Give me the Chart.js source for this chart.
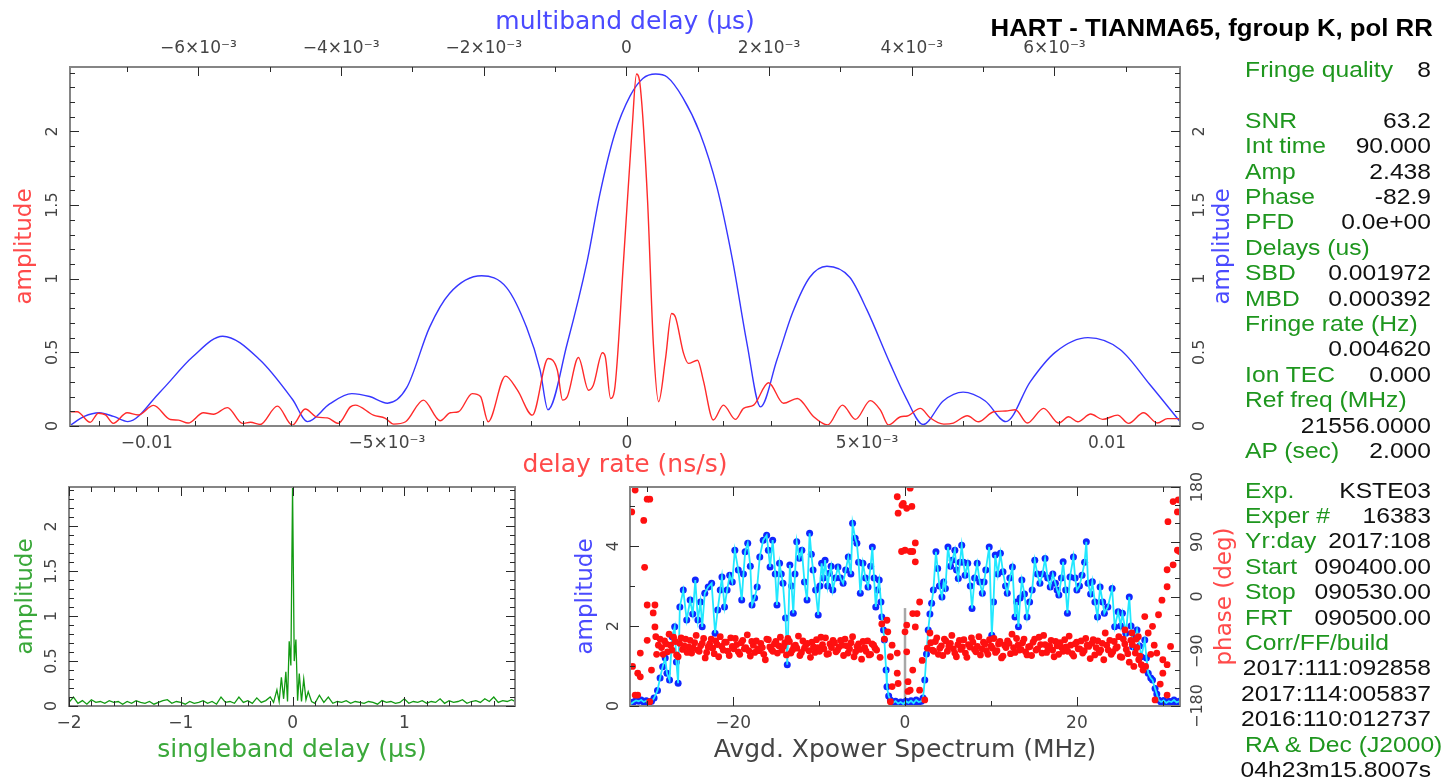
<!DOCTYPE html>
<html>
<head>
<meta charset="utf-8">
<script src="https://cdn.jsdelivr.net/npm/chart.js@4.4.1/dist/chart.umd.min.js"></script>
<style>
body { margin: 0; background: #fff; }
#page { position: relative; width: 1447px; height: 782px; overflow: hidden; font-family: 'Liberation Sans', Arial, sans-serif; }
canvas { position: absolute; }
#title { position: absolute; right: 14px; top: 14px; font-weight: bold; font-size: 23px; line-height: 28px; white-space: nowrap; transform: scaleX(1.12); transform-origin: right center; color: #000; }
#panel { position: absolute; left: 1261px; top: 0; width: 170px; height: 782px; transform: scaleX(1.12); transform-origin: right top; font-size: 22px; }
.row { position: absolute; left: 0; right: 0; height: 26px; line-height: 26px; white-space: nowrap; }
.row .k { color: #1e961e; padding-left: 4px; }
.row .v { position: absolute; right: 0; top: 0; color: #111; }
</style>
</head>
<body>
<div id="page">
  <canvas id="cTop" width="1240" height="480" style="left:0;top:0"></canvas>
  <canvas id="cSbd" width="560" height="312" style="left:0;top:470px"></canvas>
  <canvas id="cSpec" width="680" height="312" style="left:560px;top:470px"></canvas>
  <div id="title">HART - TIANMA65, fgroup K, pol RR</div>
  <div id="panel"></div>
</div>
<script>
const FONT = "'DejaVu Sans', sans-serif";
const MINUS = '\u2212';
Chart.defaults.font.family = FONT;

// delay rate (ns/s) vs amplitude - red curve
const rateX = [-0.01160,-0.01145,-0.01118,-0.01101,-0.01086,-0.01070,-0.01041,-0.01018,-0.00986,-0.00951,
  -0.00934,-0.00914,-0.00882,-0.00861,-0.00832,-0.00801,-0.00784,-0.00764,-0.00728,-0.00697,
  -0.00670,-0.00645,-0.00624,-0.00601,-0.00576,-0.00566,-0.00528,-0.00503,-0.00486,-0.00461,
  -0.00424,-0.00389,-0.00368,-0.00351,-0.00322,-0.00305,-0.00289,-0.00253,-0.00228,-0.00197,
  -0.00164,-0.00145,-0.00134,-0.00124,-0.00101,-0.00080,-0.00070,-0.00051,-0.00045,-0.00034,
  -0.00026,-0.00007,0.00011,0.00020,0.00028,0.00043,0.00055,0.00066,0.00080,0.00093,
  0.00101,0.00118,0.00128,0.00147,0.00159,0.00180,0.00201,0.00226,0.00243,0.00264,
  0.00295,0.00326,0.00355,0.00389,0.00418,0.00449,0.00476,0.00507,0.00528,0.00545,
  0.00570,0.00584,0.00611,0.00632,0.00660,0.00680,0.00709,0.00732,0.00764,0.00789,
  0.00809,0.00834,0.00868,0.00899,0.00920,0.00939,0.00966,0.00991,0.01022,0.01045,
  0.01076,0.01105,0.01126,0.01152];
const rateAmp = [0.097,0.097,0.025,0.087,0.075,0.018,0.090,0.075,0.140,0.044,
  0.040,0.020,0.090,0.080,0.125,0.018,0.025,0.010,0.135,0.005,
  0.115,0.060,0.055,0.018,0.130,0.142,0.074,0.052,0.013,0.029,
  0.176,0.036,0.090,0.097,0.220,0.200,0.029,0.339,0.243,0.074,
  0.458,0.380,0.176,0.200,0.465,0.243,0.277,0.497,0.470,0.187,
  0.240,1.125,2.030,2.390,2.300,1.530,0.560,0.165,0.447,0.764,
  0.740,0.493,0.425,0.447,0.312,0.041,0.142,0.045,0.120,0.142,
  0.294,0.154,0.187,0.063,0.007,0.142,0.045,0.172,0.108,0.007,
  0.063,0.068,0.120,0.054,0.013,0.020,0.070,0.029,0.097,0.102,
  0.110,0.020,0.120,0.020,0.063,0.029,0.081,0.045,0.074,0.018,
  0.090,0.020,0.050,0.050];

// multiband delay (us) vs amplitude - blue curve
const mbdX = [-0.00781,-0.00760,-0.00739,-0.00719,-0.00699,-0.00654,-0.00608,-0.00566,-0.00514,-0.00468,
  -0.00447,-0.00416,-0.00385,-0.00360,-0.00335,-0.00308,-0.00276,-0.00248,-0.00203,-0.00168,
  -0.00140,-0.00121,-0.00110,-0.00083,-0.00055,-0.00037,-0.00016,0.00005,0.00023,0.00041,
  0.00057,0.00079,0.00103,0.00127,0.00149,0.00169,0.00188,0.00211,0.00233,0.00257,
  0.00281,0.00313,0.00337,0.00370,0.00391,0.00416,0.00444,0.00472,0.00503,0.00532,
  0.00566,0.00601,0.00647,0.00692,0.00734,0.00776];
const mbdAmp = [0.00,0.065,0.09,0.065,0.03,0.23,0.47,0.61,0.45,0.18,
  0.03,0.15,0.22,0.20,0.155,0.26,0.67,0.90,1.02,0.94,
  0.67,0.38,0.11,0.56,1.12,1.58,1.99,2.24,2.36,2.39,
  2.37,2.23,1.99,1.62,1.12,0.56,0.13,0.45,0.77,1.01,
  1.085,1.01,0.79,0.42,0.20,0.01,0.17,0.23,0.17,0.03,
  0.30,0.50,0.60,0.52,0.28,0.03];

// singleband delay (us) vs amplitude - green curve
const sbdX = [-2.00,-1.96,-1.92,-1.88,-1.84,-1.80,-1.76,-1.72,-1.68,-1.64,
  -1.60,-1.56,-1.52,-1.48,-1.44,-1.40,-1.36,-1.32,-1.28,-1.24,
  -1.20,-1.16,-1.12,-1.08,-1.04,-1.00,-0.96,-0.92,-0.88,-0.84,
  -0.80,-0.76,-0.72,-0.68,-0.64,-0.60,-0.56,-0.52,-0.48,-0.44,
  -0.40,-0.36,-0.32,-0.28,-0.24,-0.20,-0.17,-0.14,-0.12,-0.10,
  -0.08,-0.06,-0.045,-0.03,-0.015,0,0.015,0.03,0.045,0.06,
  0.08,0.10,0.12,0.14,0.17,0.20,0.24,0.28,0.32,0.36,
  0.40,0.44,0.48,0.52,0.56,0.60,0.64,0.68,0.72,0.76,
  0.80,0.84,0.88,0.92,0.96,1.00,1.04,1.08,1.12,1.16,
  1.20,1.24,1.28,1.32,1.36,1.40,1.44,1.48,1.52,1.56,
  1.60,1.64,1.68,1.72,1.76,1.80,1.84,1.88,1.92,1.96,1.99];
const sbdAmp = [0.04,0.10,0.03,0.06,0.02,0.07,0.04,0.05,0.03,0.06,
  0.04,0.05,0.02,0.05,0.03,0.06,0.04,0.03,0.05,0.02,
  0.04,0.06,0.07,0.03,0.05,0.04,0.02,0.05,0.03,0.04,
  0.06,0.03,0.05,0.02,0.10,0.04,0.05,0.03,0.10,0.04,
  0.06,0.03,0.09,0.04,0.06,0.10,0.04,0.18,0.05,0.32,
  0.08,0.38,0.05,0.72,0.45,2.43,0.50,0.74,0.06,0.36,
  0.05,0.30,0.07,0.16,0.05,0.03,0.12,0.04,0.10,0.03,
  0.05,0.04,0.06,0.03,0.05,0.04,0.03,0.05,0.04,0.02,
  0.06,0.04,0.05,0.03,0.04,0.08,0.03,0.05,0.04,0.06,
  0.03,0.05,0.04,0.08,0.03,0.06,0.04,0.05,0.07,0.03,
  0.05,0.06,0.04,0.08,0.05,0.10,0.04,0.06,0.05,0.07,0.05];

// averaged cross-power spectrum: frequency (MHz) and amplitude
const specFreq = [-31.9,-31.6,-31.3,-31.0,-30.7,-30.4,-30.1,-29.8,-29.5,-29.2,
  -28.8,-28.5,-28.2,-27.9,-27.7,-27.4,-27.1,-26.8,-26.6,-26.4,
  -26.2,-25.8,-25.4,-25.0,-24.7,-24.4,-24.1,-23.8,-23.6,-23.3,
  -22.9,-22.5,-22.1,-21.8,-21.5,-21.3,-21.0,-20.7,-20.4,-20.1,
  -19.8,-19.4,-19.0,-18.8,-18.6,-18.3,-18.0,-17.8,-17.5,-17.2,
  -16.9,-16.5,-16.1,-15.9,-15.7,-15.4,-15.1,-14.9,-14.6,-14.4,
  -14.2,-13.9,-13.7,-13.4,-13.2,-13.0,-12.8,-12.6,-12.3,-12.0,
  -11.7,-11.4,-11.1,-10.9,-10.7,-10.4,-10.1,-9.9,-9.7,-9.5,
  -9.3,-9.0,-8.8,-8.6,-8.4,-8.1,-7.8,-7.5,-7.2,-6.9,
  -6.6,-6.3,-6.1,-5.8,-5.6,-5.4,-5.2,-4.9,-4.6,-4.3,
  -4.0,-3.8,-3.6,-3.4,-3.2,-3.0,-2.8,-2.7,-2.5,-2.4,
  -2.2,-2.1,-1.9,-1.7,-1.4,-1.1,-0.8,-0.5,-0.2,0.1,
  0.4,0.7,1.0,1.3,1.6,1.9,2.1,2.3,2.5,2.7,
  2.9,3.1,3.3,3.6,3.8,4.0,4.3,4.5,4.7,5.0,
  5.3,5.5,5.8,6.0,6.2,6.4,6.6,6.8,7.0,7.3,
  7.6,7.8,8.1,8.4,8.7,9.0,9.2,9.4,9.8,10.1,
  10.3,10.5,10.8,11.1,11.4,11.7,11.9,12.2,12.5,12.8,
  13.0,13.2,13.4,13.6,13.9,14.2,14.5,14.8,15.1,15.4,
  15.7,16.0,16.3,16.6,16.9,17.2,17.5,17.7,17.9,18.2,
  18.4,18.7,18.9,19.2,19.6,19.8,20.0,20.3,20.6,20.9,
  21.1,21.3,21.6,21.8,22.1,22.4,22.7,23.0,23.2,23.6,
  24.1,24.4,24.8,25.1,25.3,25.7,26.1,26.3,26.5,26.8,
  27.0,27.3,27.5,27.9,28.1,28.3,28.6,28.8,29.1,29.3,
  29.5,29.8,30.1,30.4,30.7,31.0,31.3,31.6,31.9];
const specAmp = [0.05,0.10,0.14,0.12,0.15,0.10,0.13,0.08,0.12,0.20,
  0.39,0.70,0.98,1.20,0.82,0.65,1.73,1.98,1.10,0.57,
  2.48,2.90,2.15,2.65,2.30,3.15,2.15,2.60,1.98,2.82,
  2.98,3.07,1.82,2.40,2.90,3.23,2.48,2.90,3.27,3.10,
  3.90,3.40,2.65,3.30,3.86,4.07,3.50,2.53,2.70,2.98,
  3.73,4.15,4.27,3.90,3.48,4.15,3.30,2.53,3.57,3.30,
  3.07,2.20,1.03,3.53,3.00,2.32,3.30,4.11,3.70,3.90,
  3.10,2.65,4.32,3.80,3.40,2.90,2.28,3.00,3.57,3.20,
  3.65,3.00,3.32,3.50,2.90,3.20,3.48,3.20,3.07,3.40,
  3.73,3.30,4.57,4.20,4.07,3.60,2.82,3.57,3.20,2.98,
  3.50,3.98,3.20,2.48,2.90,3.15,2.60,2.23,1.90,1.65,
  0.90,0.48,0.25,0.15,0.08,0.12,0.06,0.10,0.05,0.12,
  0.08,0.13,0.07,0.15,0.10,0.12,0.20,0.65,1.30,1.90,
  2.30,2.57,2.90,3.86,3.44,3.00,2.73,3.10,2.94,3.98,
  3.50,3.65,3.90,3.40,3.19,3.60,4.02,3.60,3.27,3.57,
  3.00,2.44,3.20,3.57,3.10,2.82,3.10,3.40,3.98,1.77,
  2.60,3.78,3.30,3.82,3.36,3.00,2.82,3.20,3.48,2.23,
  2.60,1.98,2.70,3.15,2.80,2.23,2.60,2.90,3.65,3.30,
  3.07,3.30,3.69,3.20,2.98,3.30,3.07,2.90,2.78,3.20,
  3.61,2.90,2.32,3.23,3.73,3.20,2.90,3.00,3.27,3.60,
  4.11,3.07,2.80,3.11,2.60,2.23,2.98,2.60,2.32,2.48,
  2.94,1.98,2.36,2.00,2.32,1.82,2.73,2.00,1.48,1.70,
  1.90,1.50,1.23,1.65,1.20,0.82,0.70,0.65,0.44,0.30,
  0.15,0.10,0.14,0.08,0.12,0.10,0.15,0.09,0.12];

// spectrum phase (deg): lower sideband, upper sideband, scattered channels
const bandLFreq = [-28.5,-28.15,-27.8,-27.45,-27.1,-26.75,-26.4,-26.05,-25.7,-25.35,
  -25.0,-24.65,-24.3,-23.95,-23.6,-23.25,-22.9,-22.55,-22.2,-21.85,
  -21.5,-21.15,-20.8,-20.45,-20.1,-19.75,-19.4,-19.05,-18.7,-18.35,
  -18.0,-17.65,-17.3,-16.95,-16.6,-16.25,-15.9,-15.55,-15.2,-14.85,
  -14.5,-14.15,-13.8,-13.45,-13.1,-12.75,-12.4,-12.05,-11.7,-11.35,
  -11.0,-10.65,-10.3,-9.95,-9.6,-9.25,-8.9,-8.55,-8.2,-7.85,
  -7.5,-7.15,-6.8,-6.45,-6.1,-5.75,-5.4,-5.05,-4.7,-4.35,
  -4.0,-3.65,-3.3];
const bandLDeg = [-70,-95,-78,-62,-88,-74,-99,-68,-81,-92,
  -72,-85,-64,-90,-77,-101,-83,-70,-94,-79,
  -66,-88,-75,-97,-82,-69,-91,-76,-86,-63,
  -98,-80,-73,-89,-84,-104,-71,-87,-78,-93,
  -67,-82,-96,-74,-88,-80,-65,-92,-85,-77,
  -100,-83,-71,-90,-79,-68,-94,-84,-76,-88,
  -72,-97,-81,-86,-66,-91,-78,-103,-84,-73,
  -95,-80,-88];
const bandL2Freq = [-28.33,-27.98,-27.63,-27.28,-26.93,-26.58,-26.23,-25.88,-25.53,-25.18,
  -24.83,-24.48,-24.13,-23.78,-23.43,-23.08,-22.73,-22.38,-22.03,-21.68,
  -21.33,-20.98,-20.63,-20.28,-19.93,-19.58,-19.23,-18.88,-18.53,-18.18,
  -17.83,-17.48,-17.13,-16.78,-16.43,-16.08,-15.73,-15.38,-15.03,-14.68,
  -14.33,-13.98,-13.63,-13.28,-12.93,-12.58,-12.23,-11.88,-11.53,-11.18,
  -10.83,-10.48,-10.13,-9.78,-9.43,-9.08,-8.73,-8.38,-8.03,-7.68,
  -7.33,-6.98,-6.63,-6.28,-5.93,-5.58,-5.23,-4.88,-4.53,-4.18,
  -3.83,-3.48];
const bandL2Deg = [-84,-73,-91,-80,-67,-96,-77,-87,-70,-83,
  -93,-76,-88,-81,-69,-92,-78,-85,-73,-99,
  -82,-75,-90,-68,-86,-79,-95,-72,-84,-89,
  -74,-92,-86,-77,-95,-70,-83,-90,-74,-81,
  -88,-76,-69,-93,-82,-85,-97,-73,-79,-89,
  -75,-92,-84,-67,-86,-95,-78,-72,-91,-83,
  -80,-70,-93,-76,-99,-82,-87,-74,-90,-96,
  -78,-85];
const bandRFreq = [3.0,3.35,3.7,4.05,4.4,4.75,5.1,5.45,5.8,6.15,
  6.5,6.85,7.2,7.55,7.9,8.25,8.6,8.95,9.3,9.65,
  10.0,10.35,10.7,11.05,11.4,11.75,12.1,12.45,12.8,13.15,
  13.5,13.85,14.2,14.55,14.9,15.25,15.6,15.95,16.3,16.65,
  17.0,17.35,17.7,18.05,18.4,18.75,19.1,19.45,19.8,20.15,
  20.5,20.85,21.2,21.55,21.9,22.25,22.6,22.95,23.3,23.65,
  24.0,24.35,24.7,25.05,25.4,25.75,26.1,26.45,26.8,27.15,
  27.5];
const bandRDeg = [-76,-90,-68,-85,-97,-73,-82,-64,-93,-79,
  -87,-71,-100,-83,-75,-91,-66,-86,-78,-95,
  -81,-69,-89,-74,-98,-84,-77,-62,-92,-80,
  -87,-70,-96,-82,-75,-88,-67,-93,-79,-85,
  -72,-99,-81,-76,-90,-83,-65,-94,-78,-86,
  -73,-89,-80,-102,-71,-84,-92,-77,-60,-88,
  -95,-74,-83,-99,-70,-87,-108,-79,-93,-66,
  -112];
const bandR2Freq = [3.18,3.53,3.88,4.23,4.58,4.93,5.28,5.63,5.98,6.33,
  6.68,7.03,7.38,7.73,8.08,8.43,8.78,9.13,9.48,9.83,
  10.18,10.53,10.88,11.23,11.58,11.93,12.28,12.63,12.98,13.33,
  13.68,14.03,14.38,14.73,15.08,15.43,15.78,16.13,16.48,16.83,
  17.18,17.53,17.88,18.23,18.58,18.93,19.28,19.63,19.98,20.33,
  20.68,21.03,21.38,21.73,22.08,22.43,22.78,23.13,23.48,23.83,
  24.18,24.53,24.88,25.23,25.58,25.93,26.28,26.63,26.98,27.33];
const bandR2Deg = [-88,-74,-95,-81,-70,-90,-77,-86,-99,-72,
  -83,-93,-79,-68,-87,-82,-96,-75,-89,-71,
  -85,-92,-78,-101,-80,-73,-94,-84,-69,-88,
  -76,-91,-83,-97,-70,-86,-79,-64,-92,-81,
  -88,-74,-95,-84,-71,-90,-80,-98,-75,-86,
  -93,-69,-82,-77,-96,-73,-88,-104,-80,-72,
  -91,-85,-66,-100,-78,-94,-72,-115,-84,-98];
const scatFreq = [-31.8,-31.4,-30.0,-29.7,-30.4,-30.3,-30.0,-29.1,-29.3,-29.1,
  -30.0,-30.8,-31.7,-31.1,-30.8,-31.4,-31.1,-29.7,-29.5,-28.9,
  -29.0,-28.7,-2.9,-2.7,-2.4,-2.1,-2.0,-1.5,-1.7,-0.9,
  -0.9,-0.8,-1.5,-1.7,-0.9,-0.35,-0.8,-0.2,0.2,0.6,
  0.8,-0.4,0.6,0.0,1.2,0.9,1.2,1.7,1.4,0.9,
  0.2,0.0,1.2,0.2,0.35,0.9,2.0,2.6,2.9,1.7,
  2.3,0.35,0.6,25.6,26.4,26.9,27.2,27.7,28.0,28.6,
  29.0,27.9,28.3,28.8,29.5,29.9,30.5,30.5,31.2,31.7,
  31.95,30.6,31.7,31.2,31.8,30.9,29.3,30.0,30.5,30.0,
  29.7,30.5,29.1];
const scatDeg = [139,175,160,160,125,48,-14,-14,-27,-50,
  -72,-93,-115,-126,-132,-162,-162,-173,-121,-95,
  -66,-80,-100,-45,-70,-39,-58,-80,-99,-93,
  -126,-143,-148,-173,164,150,137,153,145,178,
  148,74,74,76,88,74,57,-9,-28,-28,
  -47,-58,-50,-91,-140,-121,-105,-85,-60,-154,
  -170,-156,-154,-55,-60,-70,-104,-121,-115,-95,
  -80,-33,-60,-49,-30,-6,16,44,52,76,
  74,123,139,156,159,-82,-93,-104,-112,-126,
  -144,-162,-170];

// grey marker at the centre of the spectrum
const markFreq = [0, 0];
const markAmp = [0, 2.45];

const infoTop = [['Fringe quality', '8'], null, ['SNR', '63.2'], ['Int time', '90.000'], ['Amp', '2.438'],
  ['Phase', '-82.9'], ['PFD', '0.0e+00'], ['Delays (us)', ''], ['SBD', '0.001972'], ['MBD', '0.000392'],
  ['Fringe rate (Hz)', ''], ['', '0.004620'], ['Ion TEC', '0.000'], ['Ref freq (MHz)', ''], ['', '21556.0000'],
  ['AP (sec)', '2.000']];
const infoBottom = [['Exp.', 'KSTE03'], ['Exper #', '16383'], ['Yr:day', '2017:108'], ['Start', '090400.00'],
  ['Stop', '090530.00'], ['FRT', '090500.00'], ['Corr/FF/build', ''], ['', '2017:111:092858'],
  ['', '2017:114:005837'], ['', '2016:110:012737'], ['RA & Dec (J2000)', ''], ['', '04h23m15.8007s']];

const pts = (xs, ys) => xs.map((x, i) => ({ x: x, y: ys[i] }));

function fmtAmp(v) { return String(Math.round(v * 10) / 10); }
function fmtPlain(v) { return v < 0 ? MINUS + (-v) : String(v); }
function fmtRate(v) {
  if (Math.abs(v) < 1e-12) return '0';
  const s = v < 0 ? MINUS : '';
  const a = Math.abs(v);
  if (Math.abs(a - 0.01) < 1e-9) return s + '0.01';
  return s + Math.round(a * 1000) + '\u00d710\u207b\u00b3';
}
function fmtMbd(v) {
  if (Math.abs(v) < 1e-12) return '0';
  return (v < 0 ? MINUS : '') + Math.round(Math.abs(v) * 1000) + '\u00d710\u207b\u00b3';
}

const OPP = { left: 'right', right: 'left', top: 'bottom', bottom: 'top' };

// box, inward major/minor ticks, rotated y labels and titles (pgplot look)
function pgFrame(axes) {
  return {
    id: 'pgFrame',
    afterDraw(chart) {
      const ctx = chart.ctx, a = chart.chartArea;
      ctx.save();
      ctx.strokeStyle = '#858585';
      ctx.lineWidth = 2;
      ctx.strokeRect(a.left, a.top, a.right - a.left, a.bottom - a.top);
      ctx.strokeStyle = '#2a2a2a';
      ctx.lineWidth = 1;
      axes.forEach(ax => {
        const s = chart.scales[ax.id];
        const sides = ax.mirror ? [ax.side, OPP[ax.side]] : [ax.side];
        const k0 = Math.ceil(s.min / ax.minor - 1e-6), k1 = Math.floor(s.max / ax.minor + 1e-6);
        for (let k = k0; k <= k1; k++) {
          const v = k * ax.minor;
          const r = v / ax.major;
          const len = Math.abs(r - Math.round(r)) < 1e-6 ? 9 : 5;
          const p = Math.round(s.getPixelForValue(v)) + 0.5;
          sides.forEach(sd => {
            ctx.beginPath();
            if (sd === 'left') { ctx.moveTo(a.left, p); ctx.lineTo(a.left + len, p); }
            if (sd === 'right') { ctx.moveTo(a.right, p); ctx.lineTo(a.right - len, p); }
            if (sd === 'bottom') { ctx.moveTo(p, a.bottom); ctx.lineTo(p, a.bottom - len); }
            if (sd === 'top') { ctx.moveTo(p, a.top); ctx.lineTo(p, a.top + len); }
            ctx.stroke();
          });
        }
        if (ax.labelX !== undefined) {
          ctx.fillStyle = '#444';
          ctx.font = '16px ' + FONT;
          ctx.textAlign = 'center';
          ctx.textBaseline = 'middle';
          const m0 = Math.ceil(s.min / ax.major - 1e-6), m1 = Math.floor(s.max / ax.major + 1e-6);
          for (let m = m0; m <= m1; m++) {
            const v = m * ax.major;
            ctx.save();
            ctx.translate(ax.labelX, s.getPixelForValue(v));
            ctx.rotate(-Math.PI / 2);
            ctx.fillText(ax.fmt(v), 0, 0);
            ctx.restore();
          }
        }
        if (ax.title) {
          ctx.save();
          ctx.fillStyle = ax.titleColor;
          ctx.font = '23px ' + FONT;
          ctx.textAlign = 'center';
          ctx.textBaseline = 'middle';
          ctx.translate(ax.titleX, (a.top + a.bottom) / 2);
          ctx.rotate(-Math.PI / 2);
          ctx.fillText(ax.title, 0, 0);
          ctx.restore();
        }
      });
      ctx.restore();
    }
  };
}

function xAxis(pos, min, max, step, fmt, h, pad, title, color, tpad) {
  return {
    type: 'linear', position: pos, min: min, max: max,
    afterFit: s => { s.height = h; },
    grid: { display: false, drawTicks: false },
    border: { display: false },
    ticks: { stepSize: step, includeBounds: false, autoSkip: false, maxRotation: 0,
      padding: pad, color: '#444', font: { size: 17 }, callback: v => fmt(v) },
    title: { display: true, text: title, color: color, font: { size: 25 }, padding: tpad }
  };
}
function yAxis(pos, min, max, w) {
  return {
    type: 'linear', position: pos, min: min, max: max,
    afterFit: s => { s.width = w; },
    grid: { display: false, drawTicks: false },
    border: { display: false },
    ticks: { display: false }
  };
}
const base = {
  responsive: false, animation: false, events: [],
  plugins: { legend: { display: false }, tooltip: { enabled: false } }
};

// top: delay rate + multiband delay
new Chart(document.getElementById('cTop'), {
  type: 'line',
  data: { datasets: [
    { data: pts(rateX, rateAmp), xAxisID: 'x', yAxisID: 'y', borderColor: '#ff2a2a', borderWidth: 1.4,
      pointRadius: 0, cubicInterpolationMode: 'monotone', order: 0 },
    { data: pts(mbdX, mbdAmp), xAxisID: 'x2', yAxisID: 'y2', borderColor: '#3636ff', borderWidth: 1.4,
      pointRadius: 0, cubicInterpolationMode: 'monotone', order: 1 }
  ] },
  options: Object.assign({}, base, {
    layout: { padding: 0 },
    scales: {
      x: xAxis('bottom', -0.0116, 0.01152, 0.005, fmtRate, 54, 7, 'delay rate (ns/s)', '#ff4a4a', { top: 0, bottom: 0 }),
      x2: xAxis('top', -0.0078, 0.00776, 0.002, fmtMbd, 67, 8, 'multiband delay (\u03bcs)', '#4a4aff', { top: 7, bottom: 0 }),
      y: yAxis('left', 0, 2.438, 70),
      y2: yAxis('right', 0, 2.438, 60)
    }
  }),
  plugins: [pgFrame([
    { id: 'x', side: 'bottom', major: 0.005, minor: 0.001 },
    { id: 'x2', side: 'top', major: 0.002, minor: 0.001 },
    { id: 'y', side: 'left', major: 0.5, minor: 0.1, labelX: 53, fmt: fmtAmp, title: 'amplitude', titleX: 25, titleColor: '#ff4a4a' },
    { id: 'y2', side: 'right', major: 0.5, minor: 0.1, labelX: 1200, fmt: fmtAmp, title: 'amplitude', titleX: 1223, titleColor: '#4a4aff' }
  ])]
});

// bottom left: singleband delay
new Chart(document.getElementById('cSbd'), {
  type: 'line',
  data: { datasets: [
    { data: pts(sbdX, sbdAmp), borderColor: '#119a11', borderWidth: 1.3, pointRadius: 0, tension: 0 }
  ] },
  options: Object.assign({}, base, {
    layout: { padding: { top: 17, right: 45 } },
    scales: {
      x: xAxis('bottom', -2, 1.99, 1, fmtPlain, 76, 7, 'singleband delay (\u03bcs)', '#3aa83a', { top: 0, bottom: 17 }),
      y: yAxis('left', 0, 2.438, 69)
    }
  }),
  plugins: [pgFrame([
    { id: 'x', side: 'bottom', major: 1, minor: 0.2, mirror: true },
    { id: 'y', side: 'left', major: 0.5, minor: 0.1, mirror: true, labelX: 52, fmt: fmtAmp, title: 'amplitude', titleX: 26, titleColor: '#3aa83a' }
  ])]
});

// bottom right: averaged cross-power spectrum
const phaseDot = { yAxisID: 'yp', showLine: false, pointRadius: 3.4, pointBackgroundColor: '#ff1010', pointBorderWidth: 0, order: 0 };
new Chart(document.getElementById('cSpec'), {
  type: 'line',
  data: { datasets: [
    { data: pts(markFreq, markAmp), yAxisID: 'y', borderColor: '#a8a8a8', borderWidth: 2.5, pointRadius: 0, order: 3 },
    { data: pts(specFreq, specAmp), yAxisID: 'y', showLine: false, pointRadius: 3.5,
      pointBackgroundColor: '#1026ff', pointBorderColor: '#1026ff', pointBorderWidth: 0, order: 2 },
    { data: pts(specFreq, specAmp), yAxisID: 'y', borderColor: '#22e8ff', borderWidth: 1.8, pointRadius: 0, tension: 0, order: 1 },
    Object.assign({ data: pts(bandLFreq, bandLDeg) }, phaseDot),
    Object.assign({ data: pts(bandL2Freq, bandL2Deg) }, phaseDot),
    Object.assign({ data: pts(bandRFreq, bandRDeg) }, phaseDot),
    Object.assign({ data: pts(bandR2Freq, bandR2Deg) }, phaseDot),
    Object.assign({ data: pts(scatFreq, scatDeg) }, phaseDot)
  ] },
  options: Object.assign({}, base, {
    layout: { padding: { top: 17 } },
    scales: {
      x: xAxis('bottom', -32, 32, 20, fmtPlain, 76, 7, 'Avgd. Xpower Spectrum (MHz)', '#444', { top: 0, bottom: 17 }),
      y: yAxis('left', 0, 5.48, 70),
      yp: yAxis('right', -180, 180, 60)
    }
  }),
  plugins: [pgFrame([
    { id: 'x', side: 'bottom', major: 20, minor: 10, mirror: true },
    { id: 'y', side: 'left', major: 2, minor: 1, labelX: 54, fmt: fmtAmp, title: 'amplitude', titleX: 26, titleColor: '#4a4aff' },
    { id: 'yp', side: 'right', major: 90, minor: 30, labelX: 638, fmt: fmtPlain, title: 'phase (deg)', titleX: 665, titleColor: '#ff4a4a' }
  ])]
});

// fringe information panel
const panel = document.getElementById('panel');
function addRows(rows, y0, dy) {
  rows.forEach((r, i) => {
    if (!r) return;
    const d = document.createElement('div');
    d.className = 'row';
    d.style.top = (y0 + i * dy - 13) + 'px';
    d.innerHTML = '<span class="k"></span><span class="v"></span>';
    d.children[0].textContent = r[0];
    d.children[1].textContent = r[1];
    panel.appendChild(d);
  });
}
addRows(infoTop, 70, 25.4);
addRows(infoBottom, 490.5, 25.4);
</script>
</body>
</html>
